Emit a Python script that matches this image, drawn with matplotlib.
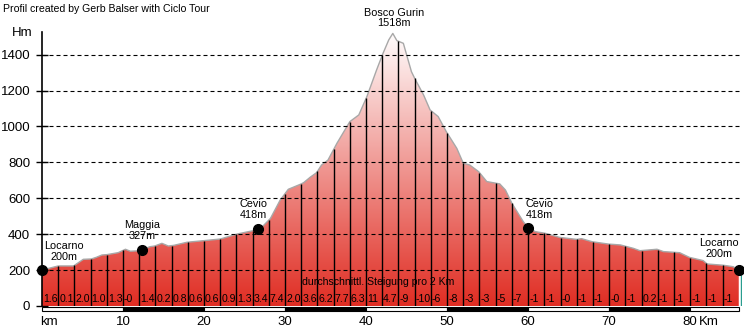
import numpy as np
import matplotlib
matplotlib.use("Agg")
from matplotlib import pyplot as plt
from matplotlib.patches import Polygon, Rectangle
from matplotlib.transforms import blended_transform_factory

plt.rcParams['font.family'] = ['Liberation Sans', 'DejaVu Sans']

# Hoehenprofil (km, Hoehe in m)
km = [0, 2, 3.9, 5.1, 6.1, 6.7, 7.4, 8, 9.4, 10.3,
      10.9, 12.1, 13.3, 13.9, 14.8, 15.6, 16.3, 17.9, 20, 22,
      24.1, 25.9, 27.2, 28.2, 29.4, 30.4, 31.9, 32.3, 33.1, 33.9,
      34.5, 35.3, 36.4, 38, 39.1, 40.1, 41.3, 42.1, 42.8, 43.3,
      43.8, 44.6, 45.6, 46, 47.1, 47.9, 48.9, 49.9, 51.2, 52,
      52.8, 53.9, 54.9, 56.5, 57.2, 58, 59.4, 60, 60.9, 62.1,
      63.9, 66, 66.6, 67.9, 69.9, 71.4, 73, 73.8, 75.9, 76.7,
      78.7, 79.9, 81.6, 82.1, 84.1, 85.3, 86]
hm = [200, 223, 223, 260, 262, 271, 284, 286, 297, 316,
      305, 308, 330, 334, 349, 334, 338, 355, 364, 373,
      401, 418, 442, 488, 590, 650, 678, 687, 717, 743,
      785, 813, 906, 1027, 1064, 1166, 1315, 1408, 1482, 1518,
      1478, 1463, 1305, 1268, 1175, 1092, 1055, 971, 878, 795,
      785, 748, 693, 680, 646, 572, 470, 436, 414, 405,
      382, 371, 375, 358, 345, 340, 321, 308, 316, 303,
      297, 271, 253, 234, 227, 219, 200]

# durchschnittliche Steigung pro 2 km
steigung = ["1.6", "0.1", "2.0", "1.0", "1.3", "-0", "1.4", "0.2", "0.8", "0.6",
            "0.6", "0.9", "1.3", "3.4", "7.4", "2.0", "3.6", "6.2", "7.7", "6.3",
            "11", "4.7", "-9", "-10", "-6", "-8", "-3", "-3", "-5", "-7",
            "-1", "-1", "-0", "-1", "-1", "-0", "-1", "0.2", "-1", "-1",
            "-1", "-1", "-1"]

orte = ["Locarno", "Maggia", "Cevio", "Bosco Gurin", "Cevio", "Locarno"]
orte_km = [0, 12.4, 26.6, 43.3, 60.0, 86.0]
orte_hm = [200, 327, 418, 1518, 418, 200]
mit_punkt = [True, True, True, False, True, True]
# Versatz der Beschriftung in Pixel
versatz = [(22, 8), (0, 9), (-4, 9), (1, 5), (11, 8), (-20, 11)]

xmax = 86.4
ytop = 1526

fig = plt.figure(figsize=(7.44, 3.32), dpi=100)
ax = fig.add_axes([42/744, 26/332, 700/744, 274/332])
ax.set_xlim(0, xmax)
ax.set_ylim(0, ytop)

# Farbverlauf rot -> weiss
t = np.linspace(0, 1, 256).reshape(-1, 1, 1)
c0 = np.array([224, 45, 35]) / 255.0
c1 = np.array([255, 253, 253]) / 255.0
img = c0 + (c1 - c0) * t
im = ax.imshow(img, extent=[0, km[-1], 0, 1520], origin='lower', aspect='auto', zorder=1)
verts = [(0, 0)] + list(zip(km, hm)) + [(km[-1], 0)]
flaeche = Polygon(verts, closed=True, facecolor='none', edgecolor='none')
ax.add_patch(flaeche)
im.set_clip_path(flaeche)
ax.plot(km, hm, color='#a8a8a8', lw=1.0, zorder=2)

# senkrechte Linien alle 2 km
xs = np.arange(2, 86, 2)
ax.vlines(xs, 0, np.interp(xs, km, hm), color='black', lw=1.0, zorder=3)
ax.vlines(km[-1] + 0.25, 0, 200, color='#2a9d8f', lw=1.0, zorder=3)

# gestrichelte Hilfslinien
ax.hlines(range(200, 1401, 200), 0, xmax, colors='black', lw=0.8,
          linestyles=(0, (3.6, 2.7)), zorder=4)

# Steigungswerte
for i, s in enumerate(steigung):
    ax.text(2 * i + 0.12, 40, s, fontsize=7.6, ha='left', va='center', zorder=5)
ax.text(41.5, 135, "durchschnittl. Steigung pro 2 Km", fontsize=7.6,
        ha='center', va='center', zorder=5)

# Orte
for name, k, h, p, (dx, dy) in zip(orte, orte_km, orte_hm, mit_punkt, versatz):
    y = np.interp(k, km, hm)
    if p:
        ax.plot(k, y, 'o', color='black', ms=7, zorder=6, clip_on=False)
    ax.annotate(f"{name}\n{h}m", (k, y), xytext=(dx, dy), textcoords='offset pixels',
                ha='center', va='bottom', fontsize=7.8, linespacing=1.1,
                multialignment='center', zorder=7, annotation_clip=False)

# Achsen
for s in ['top', 'right', 'bottom']:
    ax.spines[s].set_visible(False)
ax.spines['left'].set_linewidth(1.2)
ax.set_yticks(range(0, 1401, 200))
ax.tick_params(axis='y', direction='inout', length=9, width=1, labelsize=9.5, pad=4)
ax.set_xticks([])

# km-Balken
tr = blended_transform_factory(ax.transData, ax.transAxes)
for i in range(9):
    x0 = 10 * i
    w = min(10, km[-1] - x0)
    ax.add_patch(Rectangle((x0, -0.0175), w, 0.014, transform=tr, clip_on=False,
                           facecolor='black' if i % 2 else 'white',
                           edgecolor='black', lw=0.8, zorder=5))
for k in range(10, 81, 10):
    ax.text(k, -0.058, str(k), transform=tr, ha='center', va='center', fontsize=9.5)
ax.text(0.8, -0.058, "km", transform=tr, ha='center', va='center', fontsize=9.5)
ax.text(82.3, -0.058, "Km", transform=tr, ha='center', va='center', fontsize=9.5)

fig.text(22/744, 1 - 33/332, "Hm", ha='center', va='center', fontsize=9.5)
fig.text(3/744, 1 - 9/332, "Profil created by Gerb Balser with Ciclo Tour",
         ha='left', va='center', fontsize=7.6)

fig.savefig("out.png", dpi=100)
